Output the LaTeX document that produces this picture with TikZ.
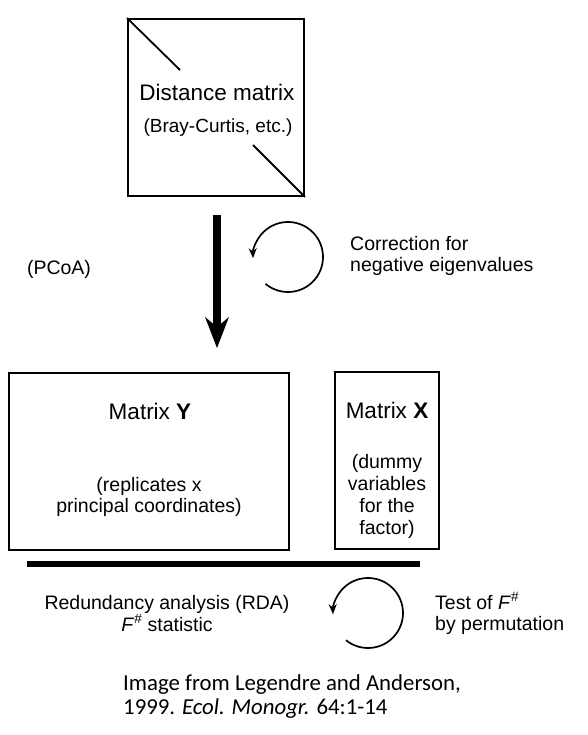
\documentclass[tikz,border=0pt]{standalone}
\usepackage{fontspec}
\setmainfont{Liberation Sans}
\newfontfamily\calib{Carlito}
\usetikzlibrary{arrows.meta}
\begin{document}
\begin{tikzpicture}[x=1pt,y=1pt,
  box/.style={draw, line width=1.8pt, rectangle, inner sep=0pt},
  lbl/.style={font=\fontsize{19.5}{21.7}\selectfont, inner sep=0pt, anchor=base, align=center},
  big/.style={font=\fontsize{22.5}{24}\selectfont},
  circ/.style={line width=1.7pt, -{Stealth[length=10pt,width=8pt]}},
  bigarrow/.style={line width=7.5pt, -{Stealth[length=31pt,width=24pt,inset=10pt,line width=0pt]}}]
\useasboundingbox (0,0) rectangle (587,-735);

% boxes
\node[box, minimum width=176pt, minimum height=177pt] (dist) at (216,-107.5) {};
\node[box, minimum width=280pt, minimum height=177pt] (maty) at (149,-461.5) {};
\node[box, minimum width=104pt, minimum height=177pt] (matx) at (387,-460.5) {};

% diagonals in distance matrix
\coordinate (d1) at (180,-70);
\coordinate (d2) at (253,-145);
\draw[line width=1.8pt] (dist.north west) -- (d1);
\draw[line width=1.8pt] (d2) -- (dist.south east);

% texts (anchor=base is the baseline of the last line)
\node[lbl, big] (dtitle) at (217,-101) {Distance matrix};
\node[lbl, font=\fontsize{19}{21}\selectfont] (dsub) at (218,-132.5) {(Bray-Curtis, etc.)};
\node[lbl] (pcoa) at (59,-274) {(PCoA)};
\node[lbl, align=left, anchor=base west, font=\fontsize{19.5}{20.5}\selectfont] (corr) at (350,-271.2) {Correction for\\negative eigenvalues};
\node[lbl, big] (ytitle) at (150,-419) {Matrix \textbf{Y}};
\node[lbl, font=\fontsize{19.5}{21}\selectfont] (ysub) at (149,-512.7) {(replicates x\\principal coordinates)};
\node[lbl, big] (xtitle) at (387,-418) {Matrix \textbf{X}};
\node[lbl, font=\fontsize{19.5}{21.9}\selectfont] (xsub) at (387,-534) {(dummy\\variables\\for the\\factor)};
\node[lbl] (rda) at (167,-631) {Redundancy analysis (RDA)\\\textit{F}\textsuperscript{\textit{\#}} statistic};
\node[lbl, align=left, anchor=base west, font=\fontsize{19.5}{20.7}\selectfont] (test) at (435,-630) {Test of \textit{F}\textsuperscript{\textit{\#}}\\by permutation};
\node[lbl, align=left, anchor=base west, font=\calib\fontsize{22.8}{24}\selectfont] (cite) at (123,-714) {Image from Legendre and Anderson,\\1999. \textit{Ecol. Monogr.} 64:1-14};

% big arrow (PCoA)
\coordinate (a1) at (217,-215);
\coordinate (a2) at (217,-348);
\draw[bigarrow] (a1) -- (a2);

% circular arrows
\coordinate (c1) at (288,-257);
\draw[circ] (c1) ++(230:35) arc[start angle=230, end angle=542, radius=35];
\coordinate (c2) at (368,-613);
\draw[circ] (c2) ++(231:35) arc[start angle=231, end angle=542, radius=35];

% thick bar
\coordinate (l1) at (27,-564);
\coordinate (l2) at (420,-564);
\draw[line width=6pt] (l1) -- (l2);
\end{tikzpicture}
\end{document}
